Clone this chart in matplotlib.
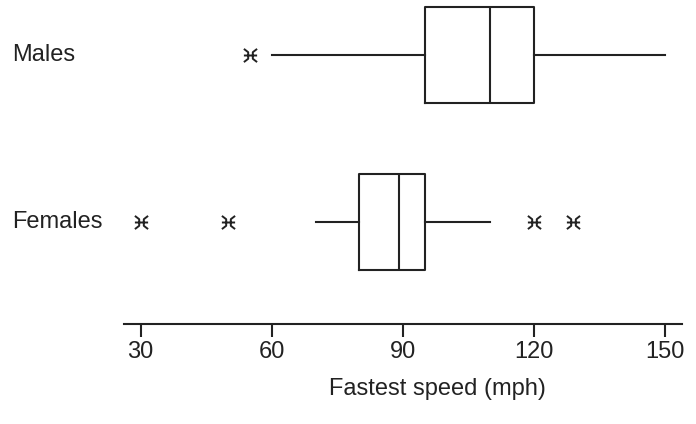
import matplotlib
matplotlib.use("Agg")
import matplotlib.pyplot as plt
from matplotlib.path import Path

plt.rcParams['font.family'] = ['Liberation Sans', 'DejaVu Sans']

# Five-number summaries (mph) for each group
groups = ["Males", "Females"]
q1 = [95, 80]
median = [110, 89]
q3 = [120, 95]
whisker_lo = [60, 70]
whisker_hi = [150, 110]
outliers = [[55], [30, 50, 120, 129]]

xticks = [30, 60, 90, 120, 150]
xlabel = "Fastest speed (mph)"

# asterisk-like flier symbol: a cross bar with two splayed strokes
star = Path(
    [(-1, 1), (-0.35, 0.5), (-0.35, -0.5), (-1, -1),
     (1, 1), (0.35, 0.5), (0.35, -0.5), (1, -1),
     (-1, 0), (1, 0)],
    [Path.MOVETO, Path.LINETO, Path.LINETO, Path.LINETO,
     Path.MOVETO, Path.LINETO, Path.LINETO, Path.LINETO,
     Path.MOVETO, Path.LINETO])

stats = []
for i, g in enumerate(groups):
    stats.append(dict(label=g, q1=q1[i], med=median[i], q3=q3[i],
                      whislo=whisker_lo[i], whishi=whisker_hi[i],
                      fliers=outliers[i]))

fig = plt.figure(figsize=(6.96, 4.24), dpi=100)
ax = fig.add_axes([124 / 696, 1 - 324 / 424, 558 / 696, 324 / 424])

lw = 1.5
ink = '#222222'
ax.bxp(stats, positions=[1, 0], widths=0.575, orientation='horizontal',
       showcaps=False,
       boxprops=dict(color=ink, linewidth=lw),
       medianprops=dict(color=ink, linewidth=lw),
       whiskerprops=dict(color=ink, linewidth=lw),
       flierprops=dict(marker=star, markersize=9.5, markeredgecolor=ink,
                       markerfacecolor='none', markeredgewidth=1.4,
                       linestyle='none'))

ax.set_xlim(26.18, 153.82)
ax.set_ylim(-0.611, 1.329)

for s in ['left', 'top', 'right']:
    ax.spines[s].set_visible(False)
ax.spines['bottom'].set_linewidth(lw)
ax.spines['bottom'].set_color(ink)

ax.set_yticks([])
ax.set_xticks(xticks)
ax.tick_params(axis='x', direction='out', length=9, width=lw,
               color=ink, labelsize=17, pad=3, labelcolor=ink)
ax.set_xlabel(xlabel, fontsize=17, color=ink)
ax.xaxis.set_label_coords(0.561, -0.168)

for pos, g in zip([1, 0], groups):
    ax.text(-0.2007, pos, g, transform=ax.get_yaxis_transform(),
            ha='left', va='center', fontsize=17, color=ink)

fig.savefig("out.png", dpi=100)
